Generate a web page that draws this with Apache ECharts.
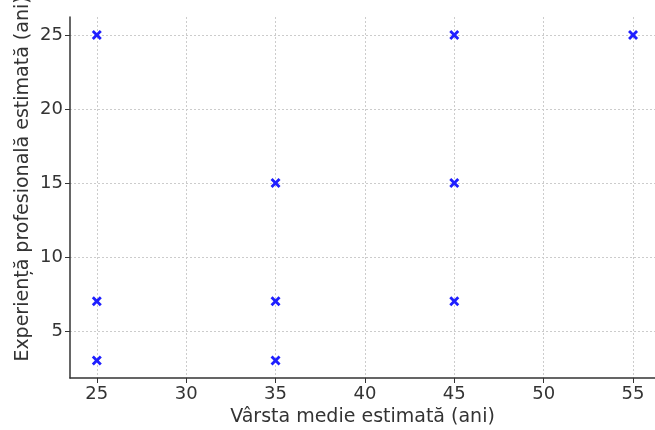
<!DOCTYPE html>
<html><head><meta charset="utf-8">
<script src="https://cdn.jsdelivr.net/npm/echarts@6/dist/echarts.min.js"></script>
<style>html,body{margin:0;padding:0;background:#fff}#c{width:655px;height:430px}</style>
</head><body><div id="c"></div>
<script>
var ages = [25, 45, 55, 35, 45, 25, 35, 45, 25, 35];
var experience = [25, 25, 25, 15, 15, 7, 7, 7, 3, 3];
var xTicks = [25, 30, 35, 40, 45, 50, 55];
var yTicks = [5, 10, 15, 20, 25];
var xTitle = 'Vârsta medie estimată (ani)';
var yTitle = 'Experiență profesională estimată (ani)';

var pts = ages.map(function (a, i) { return [a, experience[i]]; });
var font = 'DejaVu Sans';
var chart = echarts.init(document.getElementById('c'));
chart.setOption({
  animation: false,
  grid: { left: 70, right: 0, top: 17, bottom: 52, outerBoundsMode: 'none', containLabel: false },
  graphic: [{
    type: 'text', x: 23, y: 179, rotation: Math.PI / 2,
    style: { text: yTitle, fontFamily: font, fontSize: 19, fill: '#333', align: 'center', verticalAlign: 'middle' }
  }],
  xAxis: {
    type: 'value', min: 23.5, max: 56.23,
    name: xTitle, nameLocation: 'middle', nameGap: 28,
    nameTextStyle: { fontFamily: font, fontSize: 19, color: '#333' },
    axisLine: { show: true, onZero: false, lineStyle: { color: '#333', width: 1.5 } },
    axisTick: { show: true, inside: false, length: 5, lineStyle: { color: '#333' }, customValues: xTicks },
    axisLabel: { fontFamily: font, fontSize: 18, color: '#333', margin: 7, customValues: xTicks },
    splitLine: { show: true, lineStyle: { color: '#ccc', type: [2, 2], width: 1 } }
  },
  yAxis: {
    type: 'value', min: 1.82, max: 26.22,
    axisLine: { show: true, onZero: false, lineStyle: { color: '#333', width: 1.5 } },
    axisTick: { show: true, inside: false, length: 5, lineStyle: { color: '#333' }, customValues: yTicks },
    axisLabel: { fontFamily: font, fontSize: 18, color: '#333', margin: 7, customValues: yTicks },
    splitLine: { show: true, lineStyle: { color: '#ccc', type: [2, 2], width: 1 } }
  },
  series: [{
    type: 'scatter',
    data: pts,
    symbol: 'path://M2,0 L5,3 L8,0 L10,2 L7,5 L10,8 L8,10 L5,7 L2,10 L0,8 L3,5 L0,2 Z',
    symbolSize: 10,
    itemStyle: { color: '#1f1fff', opacity: 1 }
  }]
});
</script></body></html>
